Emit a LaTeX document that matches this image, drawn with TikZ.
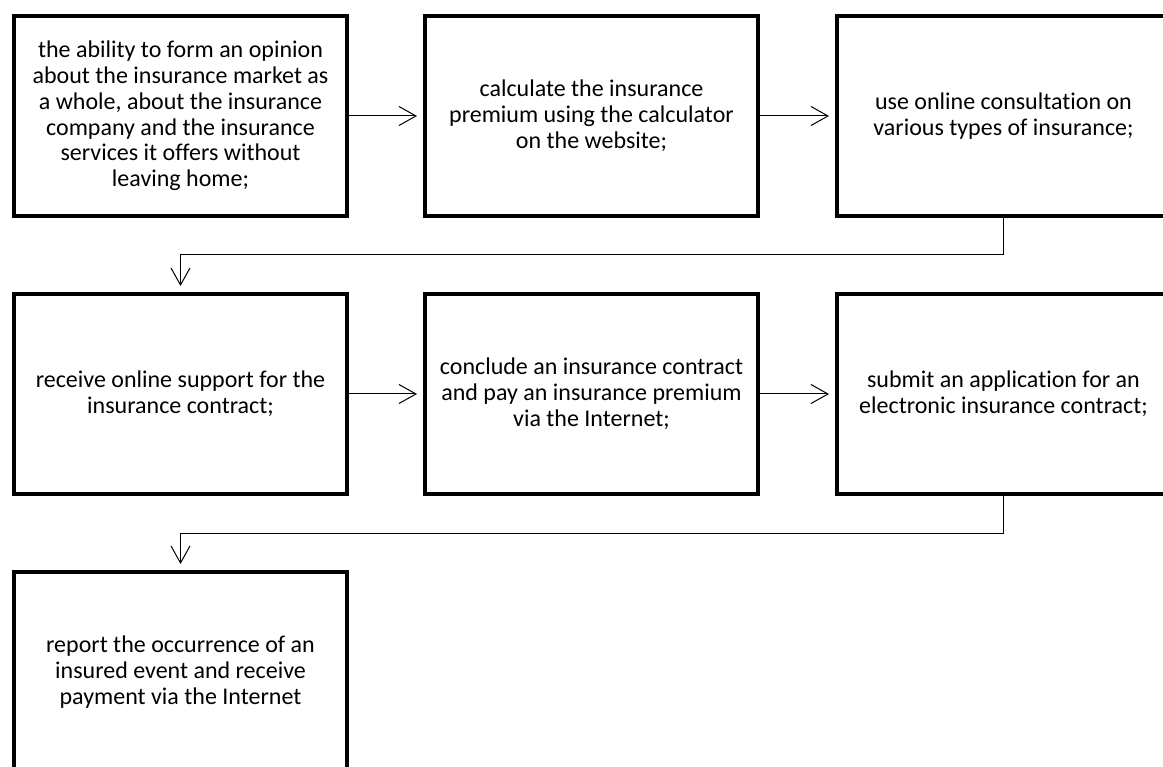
\documentclass[tikz,border=0pt]{standalone}
\usepackage{fontspec}
\setmainfont{Carlito}[Ligatures={NoCommon}]
\usetikzlibrary{arrows.meta}
\tikzset{
  box/.style={draw=black, line width=4pt, minimum width=333pt, minimum height=200pt,
    align=center, inner sep=0pt, font=\fontsize{24}{25.8}\selectfont},
  conn/.style={line width=1pt, -{Straight Barb[length=17pt,width=19pt,line width=1pt]}, shorten >=6pt}
}
\begin{document}
\begin{tikzpicture}[x=1pt,y=-1pt]
\useasboundingbox (0,0) rectangle (1163,767);
\clip (0,0) rectangle (1163,767);
\fill[white] (0,0) rectangle (1163,767);
\node[box] (b1) at (180.5,116) {the ability to form an opinion\\about the insurance market as\\a whole, about the insurance\\company and the insurance\\services it offers without\\leaving home;};
\node[box] (b2) at (591.5,116) {calculate the insurance\\premium using the calculator\\on the website;};
\node[box] (b3) at (1003.5,116) {use online consultation on\\various types of insurance;};
\node[box] (b4) at (180.5,394) {receive online support for the\\insurance contract;};
\node[box] (b5) at (591.5,394) {conclude an insurance contract\\and pay an insurance premium\\via the Internet;};
\node[box] (b6) at (1003.5,394) {submit an application for an\\electronic insurance contract;};
\node[box] (b7) at (180.5,672) {report the occurrence of an\\insured event and receive\\payment via the Internet};
\draw[conn] (b1.east) -- (b2.west);
\draw[conn] (b2.east) -- (b3.west);
\draw[conn] (b4.east) -- (b5.west);
\draw[conn] (b5.east) -- (b6.west);
\draw[conn] (b3.south) -- ++(0,37) -| (b4.north);
\draw[conn] (b6.south) -- ++(0,37) -| (b7.north);
\end{tikzpicture}
\end{document}
